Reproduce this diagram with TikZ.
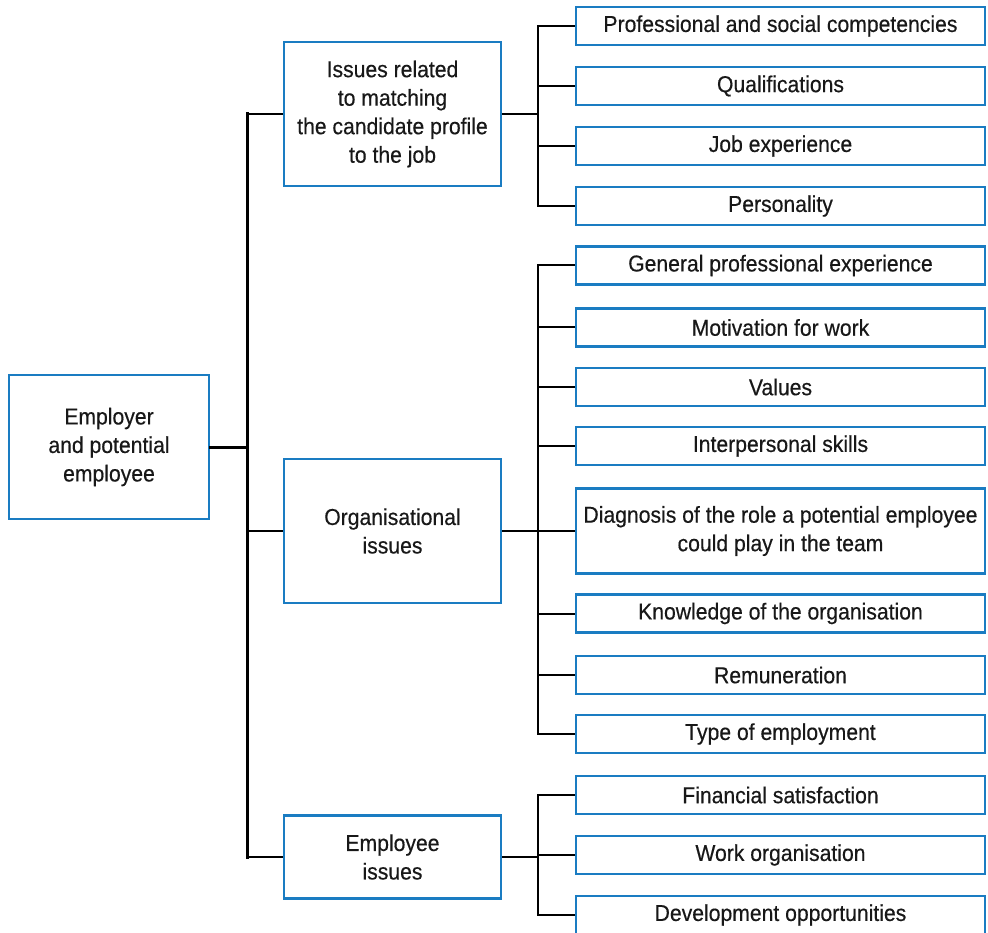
\documentclass[tikz,border=0pt]{standalone}
\usepackage{fontspec}
\setmainfont{Liberation Sans}[FakeStretch=0.92, FakeBold=0.4]
\definecolor{boxblue}{RGB}{26,124,194}
\definecolor{inktext}{RGB}{24,24,24}
\begin{document}
\begin{tikzpicture}[x=1pt,y=-1pt,
  every node/.style={font=\fontsize{23}{28.5}\selectfont, text=inktext, align=center, inner sep=0pt},
  box/.style={draw=boxblue, line width=2.3pt, fill=white, rectangle},
  rootbox/.style={box, minimum width=200pt, minimum height=144pt},
  midbox/.style={box, minimum width=217pt, minimum height=144pt},
  leafbox/.style={box, minimum width=409pt, minimum height=38pt},
  link/.style={draw=black, line width=2pt},
  heavylink/.style={draw=black, line width=3pt, line cap=rect}]
\useasboundingbox (0,0) rectangle (988,933);

% root and the three issue groups
\node[rootbox] (root) at (109,447) {Employer\\and potential\\employee};
\node[midbox] (m1) at (392.5,114) {Issues related\\to matching\\the candidate profile\\to the job};
\node[midbox] (m2) at (392.5,531) {Organisational\\issues};
\node[midbox, minimum height=83pt] (m3) at (392.5,857) {Employee\\issues};

% leaves of the first group
\node[leafbox] (a1) at (780.5,26) {Professional and social competencies};
\node[leafbox] (a2) at (780.5,86) {Qualifications};
\node[leafbox] (a3) at (780.5,146) {Job experience};
\node[leafbox] (a4) at (780.5,206) {Personality};

% leaves of the second group
\node[leafbox] (b1) at (780.5,265.5) {General professional experience};
\node[leafbox] (b2) at (780.5,327.5) {Motivation for work};
\node[leafbox] (b3) at (780.5,387) {Values};
\node[leafbox] (b4) at (780.5,446) {Interpersonal skills};
\node[leafbox, minimum height=85pt] (b5) at (780.5,531) {Diagnosis of the role a potential employee\\could play in the team};
\node[leafbox] (b6) at (780.5,613.5) {Knowledge of the organisation};
\node[leafbox] (b7) at (780.5,675) {Remuneration};
\node[leafbox] (b8) at (780.5,734) {Type of employment};

% leaves of the third group
\node[leafbox] (c1) at (780.5,795) {Financial satisfaction};
\node[leafbox] (c2) at (780.5,855) {Work organisation};
\node[leafbox] (c3) at (780.5,915) {Development opportunities};

% spine positions
\coordinate (tx) at (247,0);
\coordinate (gx) at (538,0);

% main spine
\draw[heavylink] (root.east) -- (root.east -| tx);
\draw[heavylink] (m1.west -| tx) -- (m3.west -| tx);
\foreach \m in {m1,m2,m3} \draw[link] (\m.west -| tx) -- (\m.west);

% group spines
\foreach \m in {m1,m2,m3} \draw[link] (\m.east) -- (\m.east -| gx);
\draw[link, line cap=rect] (a1.west -| gx) -- (a4.west -| gx);
\draw[link, line cap=rect] (b1.west -| gx) -- (b8.west -| gx);
\draw[link, line cap=rect] (c1.west -| gx) -- (c3.west -| gx);
\foreach \l in {a1,a2,a3,a4,b1,b2,b3,b4,b5,b6,b7,b8,c1,c2,c3}
  \draw[link] (\l.west -| gx) -- (\l.west);
\end{tikzpicture}
\end{document}
